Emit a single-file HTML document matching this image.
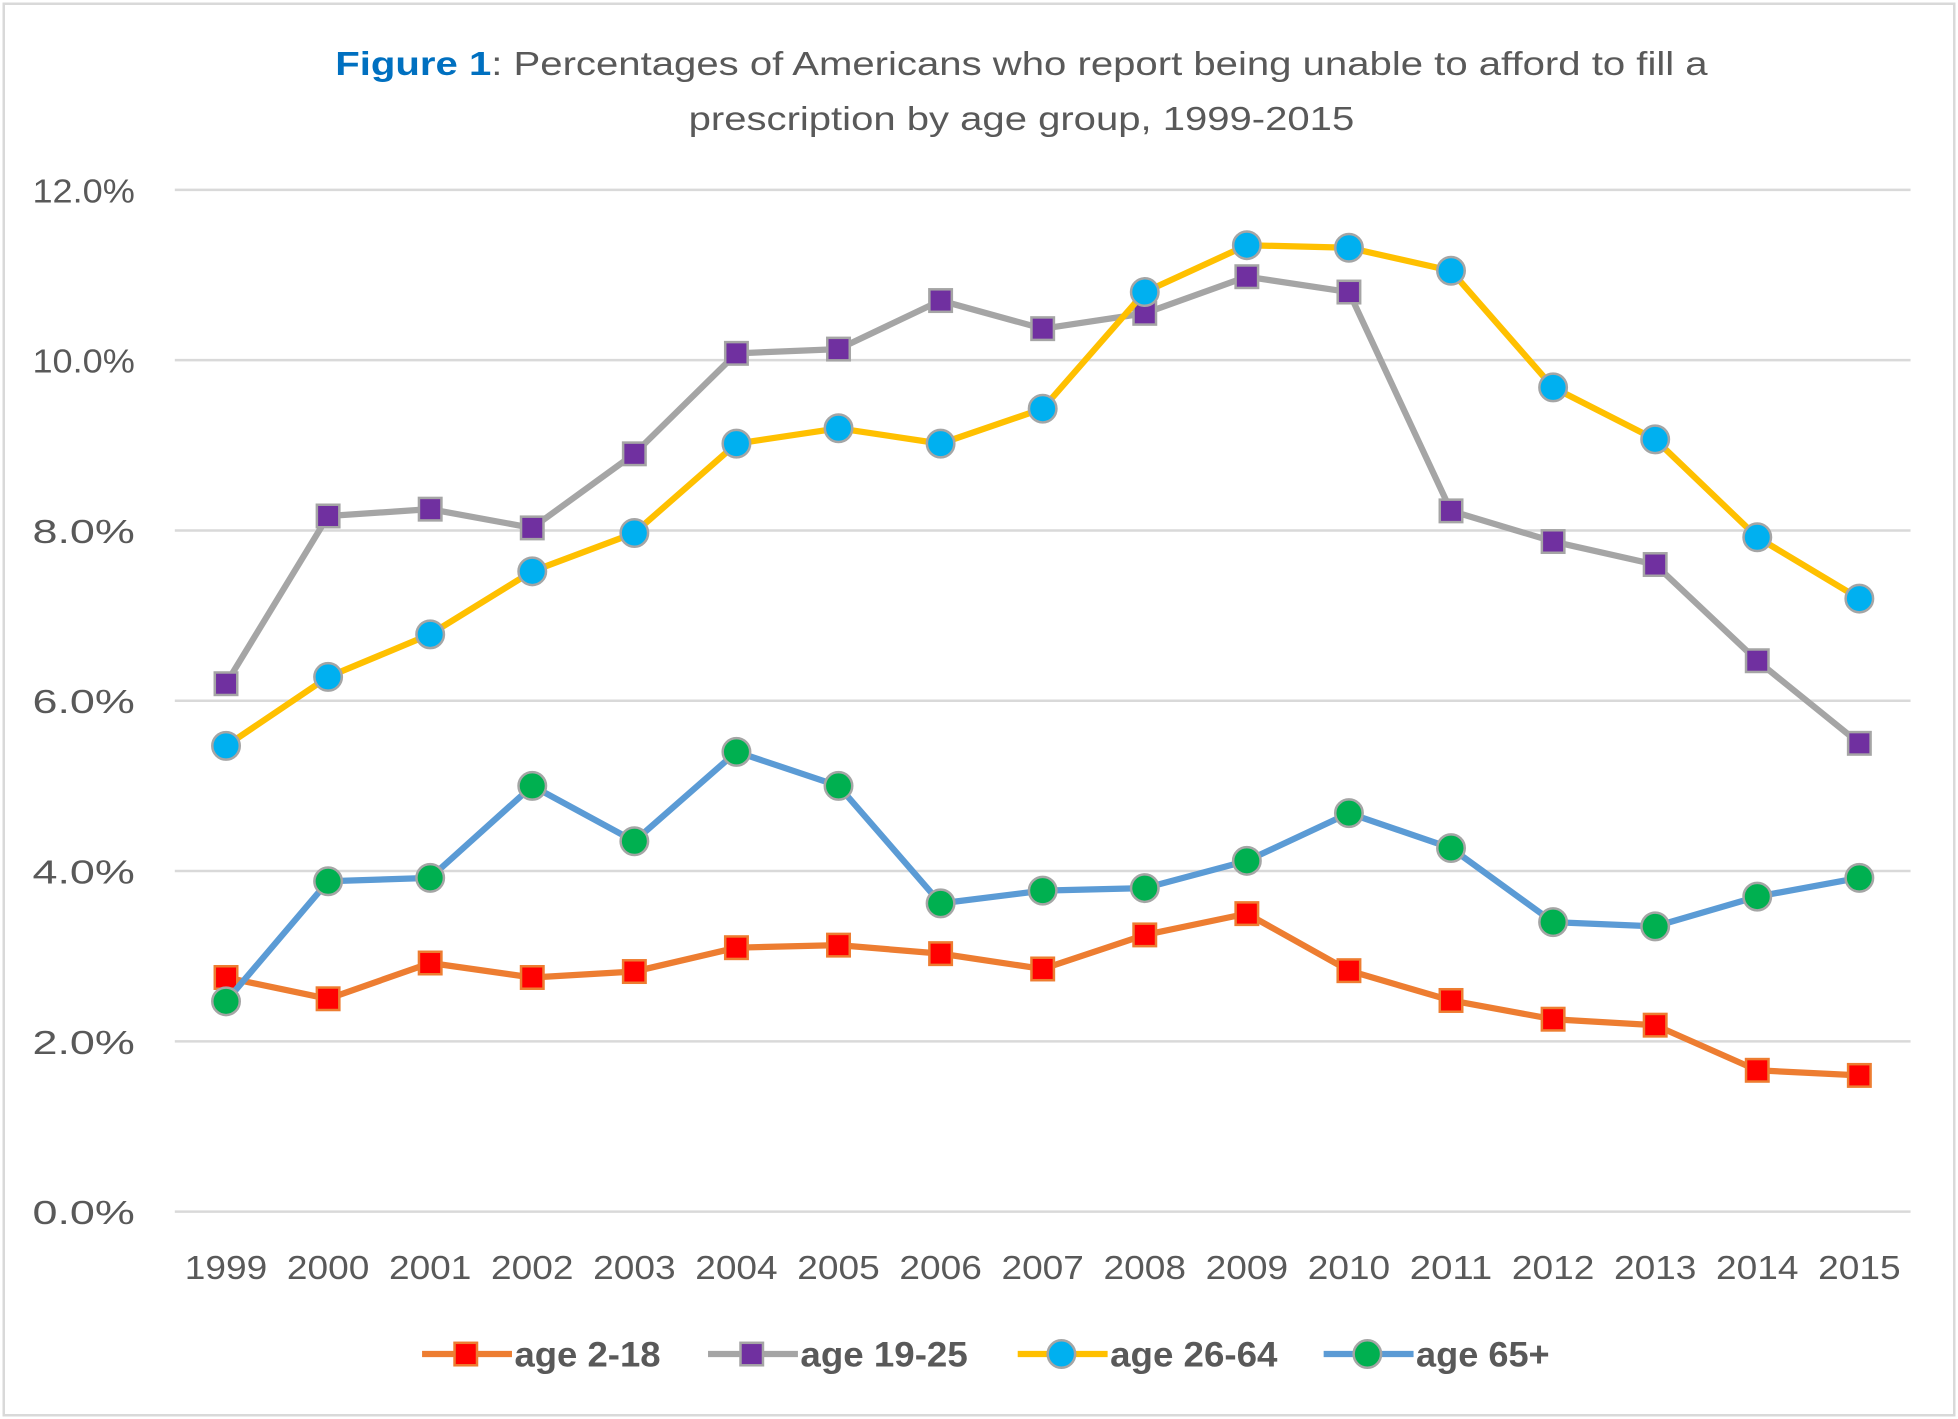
<!DOCTYPE html>
<html><head><meta charset="utf-8"><style>
html,body{margin:0;padding:0;background:#fff;}
svg{display:block;font-family:"Liberation Sans",sans-serif;}
</style></head><body>
<svg width="1958" height="1419" viewBox="0 0 1568 1136" preserveAspectRatio="none" xmlns="http://www.w3.org/2000/svg">
<rect x="3" y="3" width="1562" height="1130" fill="#fff" stroke="#d9d9d9" stroke-width="2"/>
<text x="818" y="60" text-anchor="middle" font-size="27" fill="#595959" textLength="1099" lengthAdjust="spacingAndGlyphs"><tspan fill="#0070C0" font-weight="bold">Figure 1</tspan>: Percentages of Americans who report being unable to afford to fill a</text>
<text x="818" y="104" text-anchor="middle" font-size="27" fill="#595959" textLength="533" lengthAdjust="spacingAndGlyphs">prescription by age group, 1999-2015</text>
<g id="grid"></g><g id="ylab"></g><g id="xlab"></g><g id="series"></g>
<g id="legend"></g>
</svg>
<script>
const years=["1999","2000","2001","2002","2003","2004","2005","2006","2007","2008","2009","2010","2011","2012","2013","2014","2015"];
const yTicks=[0,2,4,6,8,10,12];
const age2_18=[2.75,2.5,2.92,2.75,2.82,3.1,3.13,3.03,2.85,3.25,3.5,2.83,2.48,2.26,2.19,1.66,1.6];
const age19_25=[6.2,8.17,8.25,8.03,8.9,10.08,10.13,10.7,10.37,10.55,10.98,10.8,8.23,7.87,7.6,6.47,5.5];
const age26_64=[5.47,6.28,6.78,7.52,7.97,9.02,9.2,9.02,9.43,10.8,11.35,11.32,11.05,9.68,9.07,7.92,7.2];
const age65=[2.47,3.88,3.92,5.0,4.35,5.4,5.0,3.62,3.77,3.8,4.12,4.68,4.27,3.4,3.35,3.7,3.92];
const seriesNames=["age 2-18","age 19-25","age 26-64","age 65+"];
const NS="http://www.w3.org/2000/svg";
const x=i=>181+i*(1489-181)/(years.length-1);
const y=v=>970-v*(970-152)/12;
function mk(tag,attrs,parent){const e=document.createElementNS(NS,tag);for(const k in attrs)e.setAttribute(k,attrs[k]);parent.appendChild(e);return e;}
const grid=document.getElementById('grid'),ylab=document.getElementById('ylab'),xlab=document.getElementById('xlab'),ser=document.getElementById('series'),leg=document.getElementById('legend');
yTicks.forEach(t=>{
 const l=mk('line',{x1:140,x2:1530,y1:y(t),y2:y(t),stroke:'#d9d9d9','stroke-width':2},grid);
 
 
 const tx=mk('text',{x:108,y:y(t)+10,'text-anchor':'end','font-size':27,fill:'#595959',textLength:82,lengthAdjust:'spacingAndGlyphs'},ylab);
 tx.textContent=t.toFixed(1)+'%';
 
 
});
years.forEach((yr,i)=>{
 const tx=mk('text',{x:x(i),y:1024,'text-anchor':'middle','font-size':27,fill:'#595959',textLength:66,lengthAdjust:'spacingAndGlyphs'},xlab);
 tx.textContent=yr;
 
 
});
const styles=[
 {d:age2_18,line:'#ED7D31',fill:'#FF0000',stroke:'#ED7D31',shape:'sq',name:'series-age-2-18'},
 {d:age19_25,line:'#A5A5A5',fill:'#7030A0',stroke:'#A5A5A5',shape:'sq',name:'series-age-19-25'},
 {d:age26_64,line:'#FFC000',fill:'#00B0F0',stroke:'#A5A5A5',shape:'ci',name:'series-age-26-64'},
 {d:age65,line:'#5B9BD5',fill:'#00B050',stroke:'#A5A5A5',shape:'ci',name:'series-age-65'}];
function marker(shape,cx,cy,s,parent){
 let m;
 if(shape==='sq')m=mk('rect',{x:cx-9,y:cy-9,width:18,height:18,fill:s.fill,stroke:s.stroke,'stroke-width':2},parent);
 else m=mk('circle',{cx:cx,cy:cy,r:11,fill:s.fill,stroke:s.stroke,'stroke-width':2},parent);
 return m;
}
styles.forEach(s=>{
 const g=mk('g',{},ser);
 
 
 const p=mk('polyline',{points:s.d.map((v,i)=>x(i)+','+y(v)).join(' '),fill:'none',stroke:s.line,'stroke-width':5,'stroke-linejoin':'round'},g);
 
 
 s.d.forEach((v,i)=>{
  const m=marker(s.shape,x(i),y(v),s,g);
  
  
 });
});
const legX=[338,567,815,1060];
const legW=[117,134,134,107];
styles.forEach((s,k)=>{
 const g=mk('g',{},leg);
 
 
 mk('line',{x1:legX[k],x2:legX[k]+72,y1:1084,y2:1084,stroke:s.line,'stroke-width':5},g);
 marker(s.shape,legX[k]+35,1084,s,g);
 const t=mk('text',{x:legX[k]+74,y:1094,'font-size':28,'font-weight':'bold',fill:'#595959',textLength:legW[k],lengthAdjust:'spacingAndGlyphs'},g);
 t.textContent=seriesNames[k];
});
</script>
</body></html>
